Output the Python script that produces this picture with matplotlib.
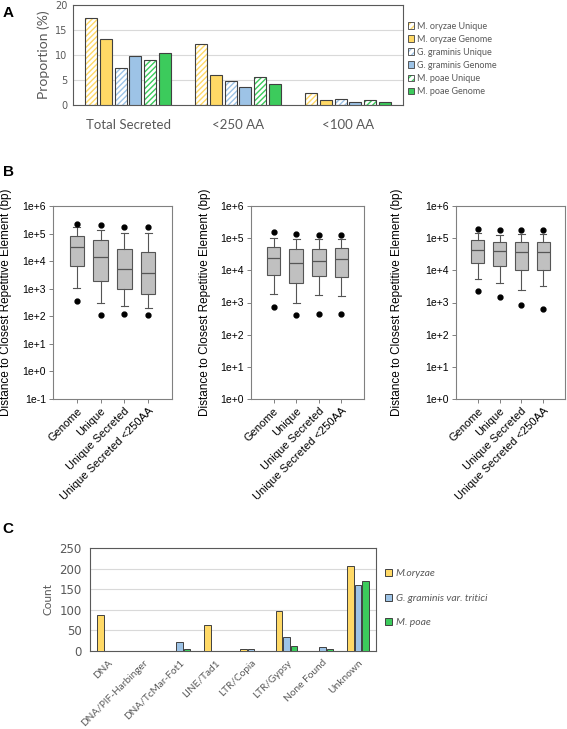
import numpy as np
import matplotlib.pyplot as plt
from matplotlib.patches import Patch

# ---- Panel A data ----
groups_a = ['Total Secreted', '<250 AA', '<100 AA']
series_a = ['M. oryzae Unique', 'M. oryzae Genome', 'G. graminis Unique',
            'G. graminis Genome', 'M. poae Unique', 'M. poae Genome']
mo_unique = [17.4, 12.2, 2.5]
mo_genome = [13.3, 6.1, 1.0]
gg_unique = [7.4, 4.8, 1.2]
gg_genome = [9.9, 3.7, 0.6]
mp_unique = [9.0, 5.7, 1.0]
mp_genome = [10.4, 4.2, 0.6]

# ---- Panel B data (box stats: whislo, q1, med, q3, whishi, low outlier, high outlier) ----
box_labels = ['Genome', 'Unique', 'Unique Secreted', 'Unique Secreted <250AA']
b1_whislo = [1.1e3, 310, 240, 195]
b1_q1 = [6.7e3, 1.85e3, 980, 660]
b1_med = [3.2e4, 1.4e4, 5.0e3, 3.6e3]
b1_q3 = [8.5e4, 6.0e4, 2.8e4, 2.1e4]
b1_whishi = [1.7e5, 1.4e5, 1.07e5, 1.07e5]
b1_out_lo = [360, 115, 125, 107]
b1_out_hi = [2.3e5, 2.0e5, 1.8e5, 1.7e5]

b2_whislo = [1.86e3, 960, 1.7e3, 1.55e3]
b2_q1 = [7.4e3, 4.1e3, 6.5e3, 6.3e3]
b2_med = [2.4e4, 1.7e4, 2.0e4, 2.3e4]
b2_q3 = [5.5e4, 4.5e4, 4.7e4, 4.8e4]
b2_whishi = [1.04e5, 9.2e4, 9.2e4, 9.6e4]
b2_out_lo = [720, 400, 435, 425]
b2_out_hi = [1.55e5, 1.35e5, 1.23e5, 1.23e5]

b3_whislo = [5.5e3, 4.1e3, 2.4e3, 3.2e3]
b3_q1 = [1.7e4, 1.4e4, 1.0e4, 1.05e4]
b3_med = [4.3e4, 4.0e4, 3.8e4, 3.8e4]
b3_q3 = [8.8e4, 7.8e4, 7.4e4, 7.6e4]
b3_whishi = [1.45e5, 1.3e5, 1.35e5, 1.35e5]
b3_out_lo = [2.2e3, 1.5e3, 850, 630]
b3_out_hi = [1.9e5, 1.85e5, 1.75e5, 1.75e5]

# ---- Panel C data ----
repeat_types = ['DNA', 'DNA/PIF-Harbinger', 'DNA/TcMar-Fot1', 'LINE/Tad1',
                'LTR/Copia', 'LTR/Gypsy', 'None Found', 'Unknown']
series_c = ['M.oryzae', 'G. graminis var. tritici', 'M. poae']
count_mo = [87, 0, 0, 63, 6, 98, 0, 207]
count_gg = [0, 1, 21, 1, 5, 34, 10, 161]
count_mp = [0, 0, 4, 0, 0, 11, 6, 169]

YEL = '#FFD966'
BLU = '#9DC3E6'
GRN = '#3CCB5C'
EDGE = '#404040'
GRAY_TXT = '#595959'

W, H = 567, 729
fig = plt.figure(figsize=(W / 100, H / 100), dpi=100)


def px_axes(x0, y0, x1, y1):
    return fig.add_axes([x0 / W, 1 - y1 / H, (x1 - x0) / W, (y1 - y0) / H])


# ================= Panel A =================
excel_font = 'Lato'
axA = px_axes(73, 5, 403, 105)
vals_a = [mo_unique, mo_genome, gg_unique, gg_genome, mp_unique, mp_genome]
cols_a = [YEL, YEL, BLU, BLU, GRN, GRN]
hatched = [True, False, True, False, True, False]
x = np.arange(len(groups_a))
step, bw = 0.133, 0.108
for i, (v, c, h) in enumerate(zip(vals_a, cols_a, hatched)):
    xi = x + (i - 2.5) * step
    if h:
        axA.bar(xi, v, bw, color='white', edgecolor=c, hatch='//////', linewidth=0, zorder=2)
        axA.bar(xi, v, bw, fill=False, edgecolor=EDGE, linewidth=0.8, zorder=3)
    else:
        axA.bar(xi, v, bw, color=c, edgecolor=EDGE, linewidth=0.8, zorder=3)
axA.set_xlim(-0.5, 2.5)
axA.set_ylim(0, 20)
axA.set_yticks([0, 5, 10, 15, 20])
axA.yaxis.grid(True, color='#D9D9D9', linewidth=0.8, zorder=0)
axA.set_axisbelow(True)
axA.set_xticks(x)
axA.set_xticklabels(groups_a, fontsize=9.5, color=GRAY_TXT, family=excel_font)
axA.tick_params(axis='both', length=0, pad=10)
axA.tick_params(axis='y', labelsize=7, labelcolor=GRAY_TXT, pad=4)
axA.set_ylabel('Proportion (%)', fontsize=10, color=GRAY_TXT, family=excel_font)
for s in axA.spines.values():
    s.set_color('#595959')
    s.set_linewidth(0.8)
handles = []
for lab, c, h in zip(series_a, cols_a, hatched):
    if h:
        handles.append((Patch(facecolor='white', edgecolor=c, hatch='/////', linewidth=0),
                        Patch(fill=False, edgecolor=EDGE, linewidth=0.6)))
    else:
        handles.append(Patch(facecolor=c, edgecolor=EDGE, linewidth=0.6))
legA = fig.legend(handles=handles, labels=series_a, loc='upper left',
                  bbox_to_anchor=(404 / W, 1 - 18 / H),
                  frameon=False, fontsize=6.5, handlelength=0.7, handleheight=0.7,
                  handletextpad=0.3, labelspacing=0.45, borderaxespad=0)
for t in legA.get_texts():
    t.set_color(GRAY_TXT)
    t.set_family(excel_font)

# ================= Panel B =================
def box_panel(rect, whislo, q1, med, q3, whishi, out_lo, out_hi, ymin, label_x):
    ax = px_axes(*rect)
    stats = []
    for i in range(len(box_labels)):
        stats.append(dict(med=med[i], q1=q1[i], q3=q3[i], whislo=whislo[i],
                          whishi=whishi[i], fliers=[out_lo[i], out_hi[i]]))
    ax.bxp(stats, positions=[1, 2, 3, 4], widths=0.6, patch_artist=True,
           boxprops=dict(facecolor='#C0C0C0', edgecolor='#555555', linewidth=0.8),
           medianprops=dict(color='#555555', linewidth=0.9),
           whiskerprops=dict(color='#555555', linewidth=0.8),
           capprops=dict(color='#555555', linewidth=0.8),
           flierprops=dict(marker='o', markerfacecolor='black', markeredgecolor='black',
                           markersize=3.5), capwidths=0.3)
    ax.set_yscale('log')
    ax.set_xlim(0, 5)
    ax.set_ylim(10.0 ** ymin, 1e6)
    exps = list(range(ymin, 7))
    ax.set_yticks([10.0 ** e for e in exps])
    ax.set_yticklabels(['1e%+d' % e for e in exps], fontsize=7.5, family='Liberation Sans')
    ax.minorticks_off()
    ax.set_xticks([1, 2, 3, 4])
    ax.set_xticklabels(box_labels, rotation=45, ha='right', rotation_mode='anchor',
                       fontsize=8, family='Liberation Sans')
    ax.tick_params(axis='both', direction='out', length=3, color='#808080', width=0.7, pad=2)
    for s in ax.spines.values():
        s.set_color('#808080')
        s.set_linewidth(0.8)
    yc = (rect[1] + rect[3]) / 2
    fig.text(label_x / W, 1 - yc / H, 'Distance to Closest Repetitive Element (bp)',
             rotation=90, ha='center', va='center', fontsize=8.5, family='Liberation Sans')
    return ax


box_panel((53, 206, 172, 399), b1_whislo, b1_q1, b1_med, b1_q3, b1_whishi,
          b1_out_lo, b1_out_hi, -1, 6)
box_panel((251, 206, 364, 399), b2_whislo, b2_q1, b2_med, b2_q3, b2_whishi,
          b2_out_lo, b2_out_hi, 0, 205)
box_panel((456, 206, 565, 399), b3_whislo, b3_q1, b3_med, b3_q3, b3_whishi,
          b3_out_lo, b3_out_hi, 0, 397)

# ================= Panel C =================
axC = px_axes(90, 548, 376, 651)
xc = np.arange(len(repeat_types))
cstep, cbw = 0.21, 0.18
for i, (v, c) in enumerate(zip([count_mo, count_gg, count_mp], [YEL, BLU, GRN])):
    axC.bar(xc + (i - 1) * cstep, v, cbw, color=c, edgecolor=EDGE, linewidth=0.7,
            label=series_c[i], zorder=3)
axC.set_xlim(-0.5, len(repeat_types) - 0.5)
axC.set_ylim(0, 250)
axC.set_yticks([0, 50, 100, 150, 200, 250])
axC.yaxis.grid(True, color='#D9D9D9', linewidth=0.8, zorder=0)
axC.set_axisbelow(True)
axC.set_xticks(xc)
axC.set_xticklabels(repeat_types, rotation=45, ha='right', rotation_mode='anchor',
                    fontsize=7.3, color=GRAY_TXT, family=excel_font)
axC.tick_params(axis='both', length=0)
axC.tick_params(axis='y', labelsize=8.5, labelcolor=GRAY_TXT, pad=6)
axC.tick_params(axis='x', pad=5)
axC.set_ylabel('Count', fontsize=8.5, color=GRAY_TXT, family=excel_font)
for s in axC.spines.values():
    s.set_color('#595959')
    s.set_linewidth(0.8)
legC = fig.legend(loc='upper left', bbox_to_anchor=(381 / W, 1 - 565 / H), frameon=False,
                  fontsize=7.5, handlelength=0.7, handleheight=0.7, handletextpad=0.3,
                  labelspacing=1.45, borderaxespad=0)
for t in legC.get_texts():
    t.set_color(GRAY_TXT)
    t.set_style('italic')
    t.set_family(excel_font)

# panel letters
for letter, yy in [('A', 13), ('B', 172), ('C', 529)]:
    fig.text(8 / W, 1 - yy / H, letter, fontsize=11, fontweight='bold',
             family='Liberation Sans', ha='center', va='center')

fig.savefig('out.png', dpi=100)
